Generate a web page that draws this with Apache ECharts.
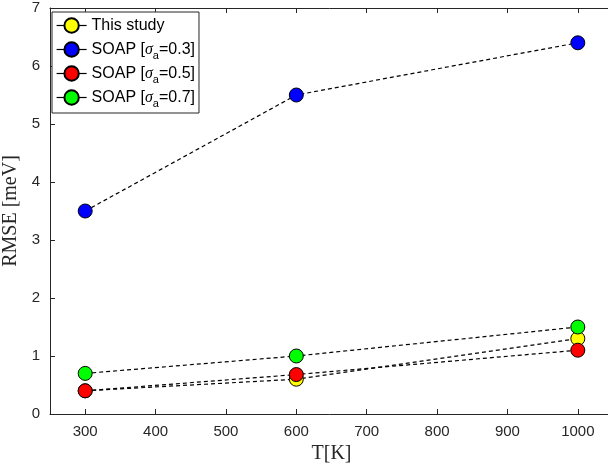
<!DOCTYPE html>
<html>
<head>
<meta charset="utf-8">
<script src="https://cdn.jsdelivr.net/npm/echarts@6/dist/echarts.min.js"></script>
<style>
  html, body { margin: 0; padding: 0; background: #fff; }
  #chartMain { width: 608px; height: 465px; }
</style>
</head>
<body>
<div id="chartMain"></div>
<script>
// temperatures (x) and RMSE values per method
const temps = [300, 600, 1000];
const thisStudy = [0.4, 0.6, 1.3];
const soap03 = [3.5, 5.5, 6.4];
const soap05 = [0.4, 0.68, 1.1];
const soap07 = [0.7, 1.0, 1.5];
const xTicks = [300, 400, 500, 600, 700, 800, 900, 1000];

const names = ['This study', 'SOAP [σa=0.3]', 'SOAP [σa=0.5]', 'SOAP [σa=0.7]'];
const colors = ['#ffff00', '#0000ff', '#ff0000', '#00ff00'];
const values = [thisStudy, soap03, soap05, soap07];

const axisColor = '#262626';
const sansFont = 'Liberation Sans, Arial, sans-serif';
const serifFont = 'Liberation Serif, DejaVu Serif, serif';

let myChart = echarts.init(document.getElementById('chartMain'));

const series = names.map((name, i) => ({
    name: name,
    type: 'line',
    data: temps.map((t, j) => [t, values[i][j]]),
    symbol: 'circle',
    symbolSize: 14,
    itemStyle: { color: colors[i], borderColor: '#000', borderWidth: 1 },
    lineStyle: { color: '#000', width: 1.2, type: [4, 3] },
    emphasis: { disabled: true },
    z: 2 + i
}));

myChart.setOption({
    animation: false,
    grid: { left: 50, top: 8, right: -5, bottom: 51, containLabel: false, outerBoundsMode: 'none' },
    legend: {
        left: 52,
        top: 12,
        orient: 'vertical',
        backgroundColor: '#fff',
        borderColor: axisColor,
        borderWidth: 1,
        borderRadius: 0,
        padding: [2, 4, 4, 4],
        itemGap: 1,
        itemWidth: 30,
        itemHeight: 18,
        lineStyle: { type: 'solid', color: '#000', width: 1.2 },
        data: names,
        formatter: (name) => {
            // keep every row the same height: plain row gets an empty subscript
            if (name === 'This study') return '{t|This study}{sub| }';
            const v = name.split('=')[1];
            return '{t|SOAP [}{s|σ}{sub|a}{t|=' + v + '}';
        },
        textStyle: {
            rich: {
                t: { fontFamily: sansFont, fontSize: 16, lineHeight: 18, color: '#000' },
                s: { fontFamily: serifFont, fontStyle: 'italic', fontSize: 16, lineHeight: 18, color: '#000' },
                sub: { fontFamily: sansFont, fontSize: 11, lineHeight: 11, padding: [12, 0, 0, 0], color: '#000' }
            }
        }
    },
    xAxis: [{
        type: 'value',
        min: 250,
        max: 1050,
        name: 'T[K]',
        nameLocation: 'middle',
        nameGap: 29,
        nameTextStyle: { fontFamily: serifFont, fontSize: 20, color: '#262626' },
        axisLine: { lineStyle: { color: axisColor, width: 1 } },
        axisTick: { inside: true, length: 5, customValues: xTicks, lineStyle: { color: axisColor } },
        axisLabel: {
            customValues: xTicks,
            formatter: (v) => String(v),
            fontFamily: sansFont, fontSize: 15, color: '#262626', margin: 10
        },
        splitLine: { show: false }
    }, {
        type: 'value',
        position: 'top',
        min: 250,
        max: 1050,
        axisLine: { onZero: false, lineStyle: { color: axisColor, width: 1 } },
        axisTick: { inside: true, length: 5, customValues: xTicks, lineStyle: { color: axisColor } },
        axisLabel: { show: false },
        splitLine: { show: false }
    }],
    yAxis: [{
        type: 'value',
        min: 0,
        max: 7,
        interval: 1,
        name: 'RMSE [meV]',
        nameLocation: 'middle',
        nameGap: 23,
        nameTextStyle: { fontFamily: serifFont, fontSize: 20, color: '#262626' },
        axisLine: { show: true, lineStyle: { color: axisColor, width: 1 } },
        axisTick: { show: true, inside: true, length: 5, lineStyle: { color: axisColor } },
        axisLabel: { fontFamily: sansFont, fontSize: 15, color: '#262626', margin: 10 },
        splitLine: { show: false }
    }],
    series: series
});
</script>
</body>
</html>
